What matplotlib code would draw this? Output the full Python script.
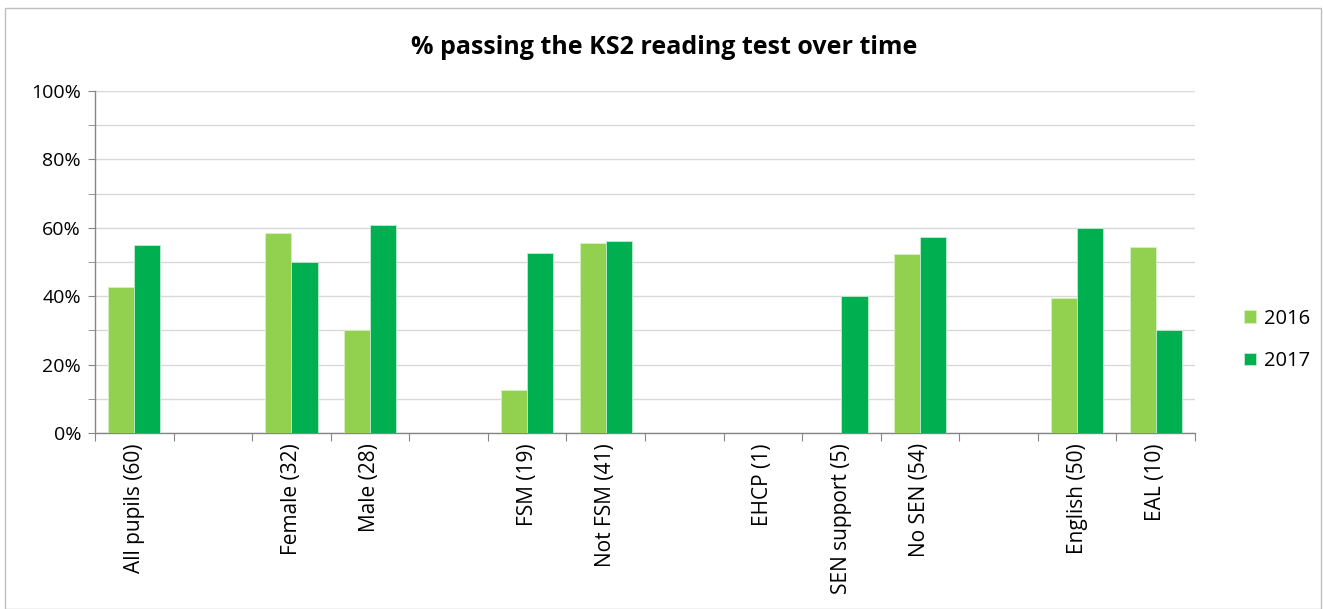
import matplotlib.pyplot as plt
import numpy as np
from matplotlib.patches import Rectangle

plt.rcParams['font.family'] = ['Open Sans', 'DejaVu Sans']

# categories (empty strings are the spacer slots)
categories = ['All pupils (60)', '', 'Female (32)', 'Male (28)', '',
              'FSM (19)', 'Not FSM (41)', '', 'EHCP (1)', 'SEN support (5)',
              'No SEN (54)', '', 'English (50)', 'EAL (10)']
pct_2016 = [42.7, 0, 58.4, 30.0, 0, 12.5, 55.5, 0, 0, 0, 52.3, 0, 39.6, 54.5]
pct_2017 = [55.0, 0, 50.0, 60.7, 0, 52.6, 56.1, 0, 0, 40.0, 57.4, 0, 60.0, 30.0]
years = ['2016', '2017']
colors = ['#92D050', '#00B050']

fig = plt.figure(figsize=(13.23, 6.09), dpi=100)
ax = fig.add_axes([95 / 1323, 1 - 433 / 609, 1100 / 1323, 342 / 609])

x = np.arange(len(categories))
w = 1 / 3
ax.bar(x - w / 2, pct_2016, w, color=colors[0], edgecolor='#d8f0c0', linewidth=0.6, label=years[0], zorder=3)
ax.bar(x + w / 2, pct_2017, w, color=colors[1], edgecolor='#c0ecd0', linewidth=0.6, label=years[1], zorder=3)

ax.set_xlim(-0.5, len(categories) - 0.5)
ax.set_ylim(0, 100)
ax.set_yticks(range(0, 101, 20))
ax.set_yticks(range(0, 101, 10), minor=True)
ax.set_yticklabels([f'{v}%' for v in range(0, 101, 20)], fontsize=14)
ax.yaxis.grid(True, which='both', color='#d9d9d9', linewidth=1, zorder=0)
ax.tick_params(axis='y', which='both', length=5, color='#868686', pad=5)

ax.set_xticks(np.arange(len(categories) + 1) - 0.5)
ax.set_xticklabels([])
ax.tick_params(axis='x', length=6, color='#868686')
for i, c in enumerate(categories):
    if c:
        ax.text(i, -3, c, rotation=90, ha='center', va='top', fontsize=15)

for s in ['top', 'right']:
    ax.spines[s].set_visible(False)
for s in ['left', 'bottom']:
    ax.spines[s].set_color('#868686')
    ax.spines[s].set_linewidth(1)

fig.text(664 / 1323, 1 - 48 / 609, '% passing the KS2 reading test over time',
         ha='center', va='center', fontsize=18, fontweight='bold')

fig.legend(loc='center left', bbox_to_anchor=(1226 / 1323, 1 - 340 / 609), frameon=False,
           fontsize=14.5, handlelength=0.6, handleheight=0.6, labelspacing=1.1, handletextpad=0.4)

fig.patches.append(Rectangle((5 / 1323, 0.5 / 609), 1316 / 1323, 1 - 8 / 609, transform=fig.transFigure,
                             fill=False, edgecolor='#bfbfbf', linewidth=1))

fig.savefig('out.png', dpi=100)
